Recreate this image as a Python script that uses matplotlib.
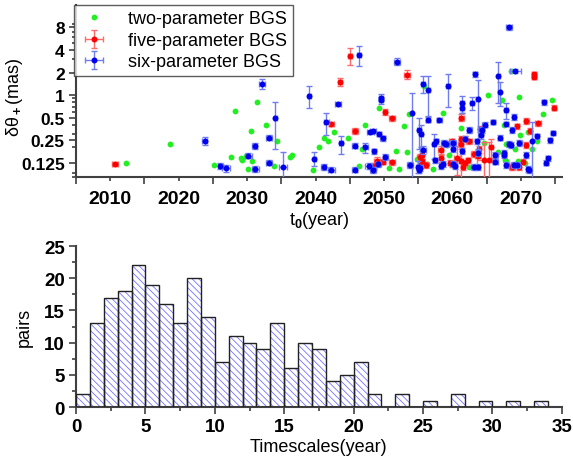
import numpy as np
import matplotlib
matplotlib.use("Agg")
import matplotlib.pyplot as plt
from matplotlib.ticker import FixedLocator, FixedFormatter, MultipleLocator, LogLocator, NullFormatter

plt.rcParams['font.family'] = ['Liberation Sans', 'DejaVu Sans']
plt.rcParams['font.weight'] = 'bold'
plt.rcParams['mathtext.fontset'] = 'custom'
plt.rcParams['mathtext.rm'] = 'Liberation Sans'
plt.rcParams['mathtext.it'] = 'Liberation Sans:italic'
plt.rcParams['hatch.linewidth'] = 0.6

# ---- two-parameter BGS (no error bars)
green_year = [2012.3, 2018.8, 2025.2, 2027.7, 2028.2, 2029.1, 2029.3, 2029.9, 2030.2, 2030.6,
              2030.7, 2031.4, 2032.7, 2033.9, 2034.3, 2036.3, 2036.6, 2039.7, 2040.5, 2041.3,
              2041.8, 2042.7, 2044.7, 2046.4, 2046.8, 2047.3, 2049.3, 2050.7, 2051.7, 2052.2,
              2053.0, 2053.3, 2053.6, 2054.8, 2055.8, 2056.3, 2057.2, 2058.7, 2059.2, 2059.5,
              2061.2, 2062.5, 2063.7, 2064.6, 2065.2, 2066.7, 2067.3, 2067.5, 2067.8, 2067.9,
              2068.5, 2069.6, 2069.8, 2069.9, 2071.1, 2071.7, 2072.4, 2073.2, 2074.5, 2067.7,
              2069.2, 2070.6]
green_val = [0.124, 0.222, 0.116, 0.147, 0.61, 0.142, 0.135, 0.155, 0.102, 0.33,
             0.131, 0.80, 0.40, 0.113, 0.245, 0.147, 0.16, 0.10, 0.20, 0.265,
             0.24, 0.32, 0.27, 0.113, 0.19, 0.40, 0.68, 0.107, 0.177, 0.103,
             0.39, 0.171, 0.56, 0.14, 1.30, 0.12, 0.102, 0.57, 0.215, 0.16,
             0.36, 0.108, 0.18, 0.23, 1.0, 0.175, 0.87, 0.40, 0.22, 0.13,
             2.1, 0.13, 0.95, 0.29, 0.32, 0.19, 0.24, 0.55, 0.85, 0.136,
             0.19, 0.124]

# ---- five-parameter BGS
red_year = [2010.7, 2042.3, 2043.6, 2045.0, 2045.8, 2048.6, 2049.0, 2049.9, 2050.2, 2051.2,
            2051.2, 2053.4, 2055.3, 2055.6, 2055.5, 2055.3, 2056.1, 2058.3, 2058.3, 2059.6,
            2059.9, 2059.9, 2060.2, 2060.7, 2061.2, 2061.2, 2061.3, 2061.3, 2061.6, 2061.9,
            2061.8, 2062.4, 2062.3, 2063.1, 2063.7, 2063.9, 2064.1, 2064.6, 2065.3, 2065.7,
            2068.7, 2069.4, 2069.7, 2070.3, 2070.7, 2070.8, 2071.3, 2071.9, 2071.9, 2072.5,
            2074.8]
red_val = [0.12, 0.41, 1.5, 3.36, 0.33, 0.113, 0.131, 0.128, 0.59, 0.49,
           0.126, 1.88, 0.15, 0.16, 0.13, 0.115, 0.117, 0.185, 0.142, 0.125,
           0.24, 0.12, 0.118, 0.145, 0.13, 0.22, 0.50, 0.26, 0.11, 0.125,
           0.26, 0.24, 0.135, 0.163, 0.155, 0.19, 0.35, 0.135, 0.135, 0.20,
           0.11, 0.38, 0.108, 0.128, 0.215, 0.45, 0.33, 1.9, 1.75, 0.42,
           0.68]
red_yerr = [0.008, 0.03, 0.18, 0.85, 0.03, 0.01, 0.015, 0.01, 0.05, 0.04,
            0.01, 0.25, 0.015, 0.02, 0.01, 0.01, 0.01, 0.02, 0.015, 0.01,
            0.02, 0.01, 0.01, 0.06, 0.07, 0.03, 0.05, 0.02, 0.01, 0.01,
            0.02, 0.02, 0.01, 0.015, 0.01, 0.02, 0.03, 0.1, 0.1, 0.06,
            0.01, 0.03, 0.01, 0.01, 0.02, 0.04, 0.03, 0.15, 0.12, 0.03,
            0.05]
red_xerr = [0.4, 0.4, 0.3, 0.3, 0.4, 0.3, 0.4, 0.3, 0.3, 0.4,
            0.4, 0.4, 0.4, 0.3, 0.3, 0.3, 0.3, 0.4, 0.3, 0.3,
            0.4, 0.3, 0.3, 0.4, 0.3, 0.4, 0.4, 0.3, 0.3, 0.3,
            0.4, 0.4, 0.3, 0.4, 0.4, 0.3, 0.3, 1.0, 0.5, 0.3,
            0.4, 0.3, 0.3, 0.3, 0.3, 0.4, 0.3, 0.3, 0.3, 0.4,
            0.3]

# ---- six-parameter BGS
blue_year = [2023.8, 2026.1, 2026.9, 2030.2, 2031.1, 2031.2, 2032.2, 2033.2, 2033.2, 2034.1,
             2035.3, 2039.1, 2039.8, 2041.2, 2041.6, 2042.3, 2043.3, 2043.7, 2045.7, 2045.7,
             2046.4, 2047.3, 2047.8, 2048.0, 2048.4, 2048.4, 2048.5, 2049.2, 2049.3, 2049.6,
             2049.6, 2049.8, 2050.2, 2051.9, 2053.8, 2054.1, 2055.0, 2055.1, 2055.4, 2055.1,
             2055.3, 2055.7, 2055.7, 2056.4, 2056.5, 2057.3, 2057.5, 2057.6, 2058.1, 2058.3,
             2058.6, 2058.8, 2059.1, 2059.3, 2060.1, 2060.1, 2060.1, 2060.4, 2061.4, 2061.4,
             2061.4, 2061.9, 2062.5, 2062.9, 2063.1, 2063.3, 2063.6, 2063.7, 2063.7, 2063.8,
             2064.2, 2064.3, 2064.7, 2066.0, 2066.3, 2066.3, 2066.7, 2066.9, 2067.0, 2067.5,
             2067.6, 2067.8, 2067.8, 2067.9, 2068.3, 2068.3, 2068.5, 2068.7, 2069.0, 2069.0,
             2069.2, 2069.5, 2069.8, 2070.8, 2071.0, 2071.2, 2071.7, 2072.3, 2073.4, 2073.7,
             2074.0, 2074.2, 2074.7]
blue_val = [0.245, 0.113, 0.105, 0.155, 0.21, 0.102, 1.42, 0.27, 0.125, 0.50,
            0.109, 0.98, 0.141, 0.11, 0.43, 0.10, 0.76, 0.225, 0.21, 0.10,
            3.46, 0.20, 0.113, 0.32, 0.33, 0.10, 0.177, 0.118, 0.30, 0.92,
            0.85, 0.265, 0.15, 2.8, 0.116, 0.57, 0.11, 0.34, 0.30, 0.10,
            0.105, 1.42, 0.185, 0.47, 1.17, 0.22, 0.135, 0.24, 0.47, 0.113,
            0.12, 0.23, 0.22, 1.30, 0.23, 0.19, 0.12, 0.113, 0.78, 0.67,
            0.18, 0.26, 0.34, 0.78, 0.11, 1.9, 0.24, 0.11, 0.89, 0.168,
            0.29, 0.34, 0.40, 0.44, 0.16, 0.128, 1.77, 1.11, 0.27, 0.17,
            0.16, 0.63, 0.41, 0.116, 8.0, 0.22, 0.215, 0.34, 0.51, 0.117,
            2.1, 0.117, 0.23, 0.16, 0.104, 0.10, 0.24, 0.28, 0.80, 0.125,
            0.142, 0.25, 0.31]
blue_yerr = [0.03, 0.01, 0.012, 0.012, 0.02, 0.01, 0.2, 0.02, 0.01, 0.31,
             0.065, 0.32, 0.03, 0.01, 0.14, 0.008, 0.05, 0.06, 0.015, 0.008,
             1.0, 0.03, 0.01, 0.02, 0.02, 0.01, 0.015, 0.01, 0.02, 0.1,
             0.1, 0.02, 0.015, 0.3, 0.01, 0.5, 0.02, 0.15, 0.1, 0.01,
             0.01, 0.35, 0.02, 0.04, 0.65, 0.08, 0.01, 0.02, 0.03, 0.01,
             0.01, 0.02, 0.02, 0.6, 0.02, 0.015, 0.01, 0.01, 0.2, 0.1,
             0.015, 0.02, 0.03, 0.15, 0.01, 0.15, 0.02, 0.01, 0.7, 0.015,
             0.03, 0.03, 0.03, 0.03, 0.015, 0.01, 1.0, 0.4, 0.02, 0.015,
             0.015, 0.15, 0.03, 0.01, 0.7, 0.02, 0.02, 0.03, 0.05, 0.01,
             0.15, 0.01, 0.02, 0.015, 0.01, 0.01, 0.2, 0.02, 0.06, 0.01,
             0.012, 0.02, 0.02]
blue_xerr = [0.4, 0.4, 0.6, 0.5, 0.4, 0.5, 0.4, 0.5, 0.5, 0.2,
             0.6, 0.2, 0.2, 0.4, 0.3, 0.5, 0.4, 0.3, 0.4, 0.4,
             0.3, 0.4, 0.5, 0.5, 0.5, 0.4, 0.3, 0.4, 0.3, 0.3,
             0.3, 0.4, 0.4, 0.4, 0.4, 0.2, 0.3, 0.3, 0.3, 0.3,
             0.3, 0.3, 0.4, 0.3, 0.2, 0.3, 0.3, 0.3, 0.4, 0.3,
             0.3, 0.4, 0.4, 0.3, 0.4, 0.3, 0.3, 0.3, 0.3, 0.3,
             0.3, 0.3, 0.3, 0.3, 0.4, 0.3, 0.3, 0.4, 0.2, 0.3,
             0.3, 0.3, 0.3, 0.3, 0.3, 0.3, 0.2, 0.2, 0.3, 0.3,
             0.3, 0.3, 0.3, 0.4, 0.4, 0.3, 0.3, 0.3, 0.3, 0.4,
             0.8, 0.4, 0.3, 0.3, 0.3, 0.3, 0.1, 0.3, 0.3, 0.3,
             0.3, 0.3, 0.3]

# ---- histogram of timescales (bins of 1 year)
bin_left = np.arange(0, 34)
pairs = [2, 13, 17, 18, 22, 19, 16, 13, 20, 14, 7, 11, 10, 9, 13, 6, 10, 9, 4, 5,
         7, 2, 0, 2, 0, 1, 0, 2, 0, 1, 0, 1, 0, 1]

ytick_vals = [0.125, 0.25, 0.5, 1, 2, 4, 8]
ytick_labs = ['0.125', '0.25', '0.5', '1', '2', '4', '8']

fig = plt.figure(figsize=(5.73, 4.60), dpi=100)
ax1 = fig.add_axes([0.1326, 0.613, 0.848, 0.374])
ax2 = fig.add_axes([0.1326, 0.113, 0.848, 0.35])

axis_col = '#404040'

# top panel
ax1.plot(green_year, green_val, 'o', color='#22ee22', ms=4.2, mec='none',
         label='two-parameter BGS', zorder=3)
ax1.errorbar(red_year, red_val, yerr=red_yerr, xerr=red_xerr, fmt='o', color='#ff0000',
             ms=4.3, mec='none', ecolor='#ff6a6a', elinewidth=1.0, capsize=2.5,
             capthick=1.0, label='five-parameter BGS', zorder=4)
ax1.errorbar(blue_year, blue_val, yerr=blue_yerr, xerr=blue_xerr, fmt='o', color='#0000ee',
             ms=4.3, mec='none', ecolor='#6f7df0', elinewidth=1.0, capsize=2.5,
             capthick=1.0, label='six-parameter BGS', zorder=5)
ax1.set_yscale('log')
ax1.set_ylim(0.08, 16)
ax1.set_xlim(2005, 2076)
ax1.yaxis.set_major_locator(FixedLocator(ytick_vals))
ax1.yaxis.set_major_formatter(FixedFormatter(ytick_labs))
ax1.yaxis.set_minor_locator(LogLocator(base=10, subs=np.arange(2, 10)))
ax1.yaxis.set_minor_formatter(NullFormatter())
ax1.xaxis.set_major_locator(MultipleLocator(10))
ax1.xaxis.set_minor_locator(MultipleLocator(5))

# bottom panel: hatched histogram
ax2.bar(bin_left, pairs, width=1.0, align='edge', color='white', edgecolor='#7272ff',
        hatch='\\\\\\\\\\', linewidth=0, zorder=2)
ax2.bar(bin_left, pairs, width=1.0, align='edge', fill=False, edgecolor='#222222',
        linewidth=1.0, zorder=3)
ax2.set_xlim(0, 35)
ax2.set_ylim(0, 25)
ax2.xaxis.set_major_locator(MultipleLocator(5))
ax2.xaxis.set_minor_locator(MultipleLocator(2.5))
ax2.yaxis.set_major_locator(MultipleLocator(5))
ax2.yaxis.set_minor_locator(MultipleLocator(2.5))

for ax in (ax1, ax2):
    ax.spines['top'].set_visible(False)
    ax.spines['right'].set_visible(False)
    for s in ('left', 'bottom'):
        ax.spines[s].set_color(axis_col)
        ax.spines[s].set_linewidth(1.5)
    ax.tick_params(which='both', direction='out', color=axis_col, width=1.2)
    ax.tick_params(which='major', length=5, labelsize=13.5, pad=3)
    ax.tick_params(which='minor', length=3)

ax1.tick_params(axis='x', which='major', length=3, pad=6, labelsize=14)
ax1.tick_params(axis='x', which='minor', length=5)
ax1.tick_params(axis='y', which='major', labelsize=12.5)

ax1.set_xlabel('t$_0$(year)', fontsize=13, fontweight='normal', labelpad=2)
ax1.set_ylabel('δθ$_+$(mas)', fontsize=13, fontweight='normal')
ax1.yaxis.set_label_coords(-0.105, 0.47)
leg = ax1.legend(loc='upper left', bbox_to_anchor=(-0.004, 1.0), borderaxespad=0,
                 prop={'size': 13, 'weight': 'normal'}, frameon=True, fancybox=False,
                 edgecolor='#333333', handlelength=1.6, handletextpad=1.1,
                 borderpad=0.3, labelspacing=0.25)
leg.get_frame().set_linewidth(1.0)

ax2.set_xlabel('Timescales(year)', fontsize=13, fontweight='normal', labelpad=2)
ax2.set_ylabel('pairs', fontsize=13, fontweight='normal')
ax2.yaxis.set_label_coords(-0.088, 0.5)

fig.savefig('out.png', dpi=100)
